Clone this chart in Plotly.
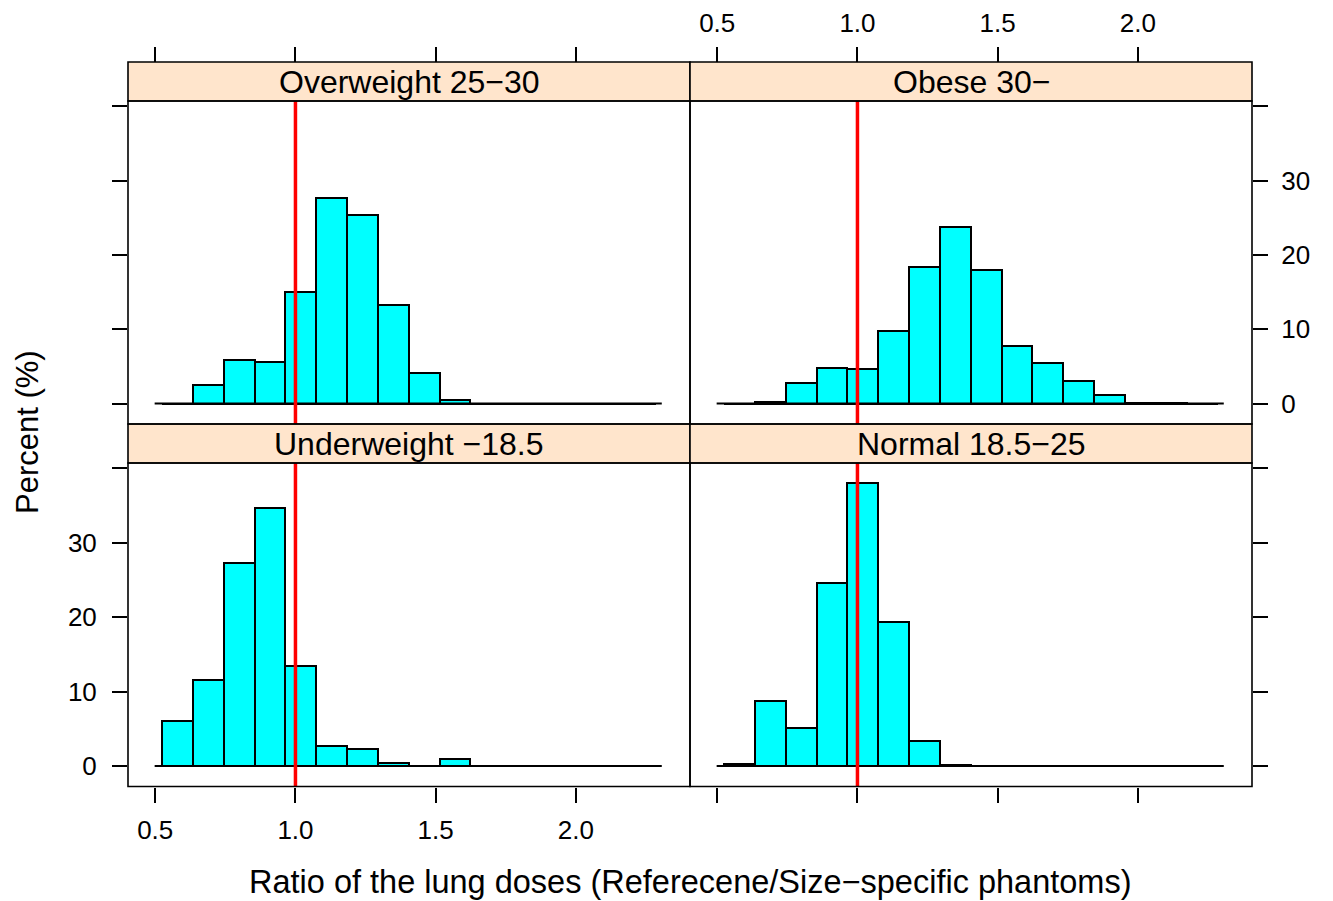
import plotly.graph_objects as go

# ---------------- data ----------------
bin_edges = [0.524, 0.634, 0.744, 0.854, 0.964, 1.074, 1.184, 1.294, 1.404,
             1.514, 1.624, 1.734, 1.844, 1.954, 2.064, 2.174, 2.284]

panel_titles = ["Underweight \u221218.5", "Normal 18.5\u221225",
                "Overweight 25\u221230", "Obese 30\u2212"]

underweight = [6.0, 11.55, 27.3, 34.7, 13.4, 2.7, 2.3, 0.45, 0.0, 0.9, 0, 0, 0, 0, 0, 0]
normal      = [0.27, 8.8, 5.15, 24.55, 38.0, 19.4, 3.36, 0.2, 0, 0, 0, 0, 0, 0, 0, 0]
overweight  = [0, 2.5, 5.8, 5.55, 15.0, 27.6, 25.4, 13.3, 4.05, 0.5, 0, 0, 0, 0, 0, 0]
obese       = [0, 0.2, 2.75, 4.85, 4.6, 9.7, 18.35, 23.7, 18.0, 7.75, 5.5, 3.0, 1.1, 0.1, 0.1, 0]

reference_ratio = 1.0
baseline_span = [0.498, 2.306]

x_tickvals = [0.5, 1.0, 1.5, 2.0]
x_ticktext = ["0.5", "1.0", "1.5", "2.0"]
y_tickvals = [0, 10, 20, 30, 40]
y_ticktext = ["0", "10", "20", "30", ""]

x_title = "Ratio of the lung doses (Referecene/Size\u2212specific phantoms)"
y_title = "Percent (%)"

# ---------------- layout geometry (pixels) ----------------
W, H = 1333, 901
LX0, MX, RX1 = 128, 690, 1252
TOP_STRIP = (62, 101)
TOP_PANEL = (101, 424)
BOT_STRIP = (424, 463)
BOT_PANEL = (463, 786.5)

def fx(px):
    return px / W

def fy(py):
    return 1 - py / H

XR = [0.403, 2.4066]
YR = [-2.75, 40.7]
FONT = "Liberation Sans, Arial, Helvetica, sans-serif"
TICKFONT = dict(family=FONT, size=26, color="black")

centers = [(bin_edges[i] + bin_edges[i + 1]) / 2 for i in range(len(bin_edges) - 1)]
widths = [bin_edges[i + 1] - bin_edges[i] for i in range(len(bin_edges) - 1)]

fig = go.Figure()

panels = [
    (underweight, "x", "y"),
    (normal, "x2", "y2"),
    (overweight, "x3", "y3"),
    (obese, "x4", "y4"),
]

for vals, xa, ya in panels:
    fig.add_trace(go.Bar(
        x=centers, y=vals, width=widths, base=0,
        marker=dict(color="#00FFFF", line=dict(color="black", width=2)),
        xaxis=xa, yaxis=ya, showlegend=False, hoverinfo="x+y",
    ))
    fig.add_trace(go.Scatter(
        x=baseline_span, y=[0, 0], mode="lines",
        line=dict(color="black", width=2),
        xaxis=xa, yaxis=ya, showlegend=False, hoverinfo="skip",
    ))
    fig.add_trace(go.Scatter(
        x=[reference_ratio, reference_ratio], y=[YR[0], 42], mode="lines",
        line=dict(color="#FF0000", width=3.5),
        xaxis=xa, yaxis=ya, showlegend=False, hoverinfo="skip",
    ))

common_x = dict(range=XR, showgrid=False, zeroline=False, showline=False,
                ticks="outside", ticklen=15, tickwidth=1.5, tickcolor="black",
                tickvals=x_tickvals, ticktext=x_ticktext, tickfont=TICKFONT,
                fixedrange=True)
common_y = dict(range=YR, showgrid=False, zeroline=False, showline=False,
                ticks="outside", ticklen=15, tickwidth=1.5, tickcolor="black",
                tickvals=y_tickvals, ticktext=y_ticktext, tickfont=TICKFONT,
                fixedrange=True)

left_dom = [fx(LX0), fx(MX)]
right_dom = [fx(MX), fx(RX1)]
top_dom = [fy(TOP_PANEL[1]), fy(TOP_PANEL[0])]
bot_dom = [fy(BOT_PANEL[1]), fy(BOT_PANEL[0])]

fig.update_layout(
    xaxis=dict(common_x, domain=left_dom, anchor="y", side="bottom", ticklabelstandoff=5),
    yaxis=dict(common_y, domain=bot_dom, anchor="x", side="left", ticklabelstandoff=10),
    xaxis2=dict(common_x, domain=right_dom, anchor="y2", side="bottom", showticklabels=False),
    yaxis2=dict(common_y, domain=bot_dom, anchor="x2", side="right", showticklabels=False),
    xaxis3=dict(common_x, domain=left_dom, anchor="free", position=fy(TOP_STRIP[0]),
                side="top", showticklabels=False),
    yaxis3=dict(common_y, domain=top_dom, anchor="x3", side="left", showticklabels=False),
    xaxis4=dict(common_x, domain=right_dom, anchor="free", position=fy(TOP_STRIP[0]),
                side="top", ticklabelstandoff=5),
    yaxis4=dict(common_y, domain=top_dom, anchor="x4", side="right", ticklabelstandoff=8),
)

shapes = []
strip_fill = "#FFE5CC"
for (x0, x1) in [(LX0, MX), (MX, RX1)]:
    for (s0, s1) in [TOP_STRIP, BOT_STRIP]:
        shapes.append(dict(type="rect", xref="paper", yref="paper",
                           x0=fx(x0), x1=fx(x1), y0=fy(s1), y1=fy(s0),
                           fillcolor=strip_fill, line=dict(color="black", width=1.6),
                           layer="above"))
    for (p0, p1) in [TOP_PANEL, BOT_PANEL]:
        shapes.append(dict(type="rect", xref="paper", yref="paper",
                           x0=fx(x0), x1=fx(x1), y0=fy(p1), y1=fy(p0),
                           fillcolor="rgba(0,0,0,0)", line=dict(color="black", width=1.6),
                           layer="above"))

annotations = []
strip_pos = [
    ((LX0 + MX) / 2, sum(BOT_STRIP) / 2),
    ((MX + RX1) / 2, sum(BOT_STRIP) / 2),
    ((LX0 + MX) / 2, sum(TOP_STRIP) / 2),
    ((MX + RX1) / 2, sum(TOP_STRIP) / 2),
]
for title, (cx, cy) in zip(panel_titles, strip_pos):
    annotations.append(dict(text=title, xref="paper", yref="paper",
                            x=fx(cx), y=fy(cy + 1), xanchor="center", yanchor="middle",
                            showarrow=False, font=dict(family=FONT, size=32, color="black")))

annotations.append(dict(text=x_title, xref="paper", yref="paper",
                        x=fx(690), y=fy(882), xanchor="center", yanchor="middle",
                        showarrow=False, font=dict(family=FONT, size=32.5, color="black")))
annotations.append(dict(text=y_title, xref="paper", yref="paper",
                        x=fx(27), y=fy(432), xanchor="center", yanchor="middle",
                        textangle=-90, showarrow=False,
                        font=dict(family=FONT, size=31, color="black")))

fig.update_layout(
    width=W, height=H,
    margin=dict(l=0, r=0, t=0, b=0),
    paper_bgcolor="white", plot_bgcolor="white",
    bargap=0, barmode="overlay",
    shapes=shapes, annotations=annotations,
    showlegend=False,
)

fig.write_html(
    "out.html",
    config={"displayModeBar": False},
    post_script="document.body.style.margin='0px';document.body.style.overflow='hidden';",
)
